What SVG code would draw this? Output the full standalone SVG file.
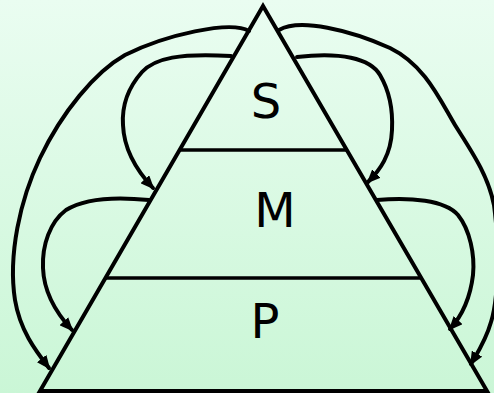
<svg xmlns="http://www.w3.org/2000/svg" width="494" height="393" viewBox="0 0 494 393">
  <defs>
    <linearGradient id="bg" x1="0" y1="0" x2="0" y2="1">
      <stop offset="0" stop-color="#eafdf1"/>
      <stop offset="1" stop-color="#caf6d6"/>
    </linearGradient>
    <marker id="ah" viewBox="0 0 14 12" refX="12" refY="6" markerWidth="14" markerHeight="12" markerUnits="userSpaceOnUse" orient="auto">
      <path d="M0,0 L14,6 L0,12 z" fill="#000"/>
    </marker>
  </defs>
  <style>
    .edge { fill: none; stroke: #000; stroke-width: 4; stroke-linecap: round; stroke-linejoin: round; marker-end: url(#ah); }
    .tri { fill: none; stroke: #000; stroke-width: 4; stroke-linejoin: miter; }
    .div { stroke: #000; stroke-width: 3.5; }
    .lbl { font-family: "DejaVu Sans", "Liberation Sans", sans-serif; font-size: 48px; fill: #000; text-anchor: middle; }
  </style>
  <rect x="0" y="0" width="494" height="393" fill="url(#bg)"/>

  <g id="pyramid">
    <polygon class="tri" points="263,6 40,391 487,391"/>
    <line class="div" x1="179" y1="150" x2="347" y2="150"/>
    <line class="div" x1="105" y1="278" x2="421" y2="278"/>
  </g>
  <g id="node-S"><text class="lbl" x="266" y="118">S</text></g>
  <g id="node-M"><text class="lbl" x="275" y="227">M</text></g>
  <g id="node-P"><text class="lbl" x="265" y="338">P</text></g>

  <g id="connectors">
    <path class="edge" d="M249,31 C230,20 165,35 125,55 C95,72 62,112 40,158 C20,200 8,255 15,300 C20,330 35,350 49,368"/>
    <path class="edge" d="M231,56 C180,53 155,58 142,72 C126,90 122,110 123,125 C124,150 138,172 153,188"/>
    <path class="edge" d="M149,200 C110,196 82,200 66,210 C50,222 42,245 43,268 C44,295 58,315 72,330"/>
    <path class="edge" d="M279,30 C300,18 350,30 390,48 C425,65 440,100 455,125 C472,152 488,175 494,205 C500,250 498,300 491,322 C486,340 478,352 471,364"/>
    <path class="edge" d="M297,57 C340,52 370,58 380,75 C390,92 393,110 392,130 C391,155 380,170 368,182"/>
    <path class="edge" d="M377,200 C410,197 445,200 458,215 C470,230 475,255 473,275 C470,300 460,318 450,329"/>
  </g>
</svg>
